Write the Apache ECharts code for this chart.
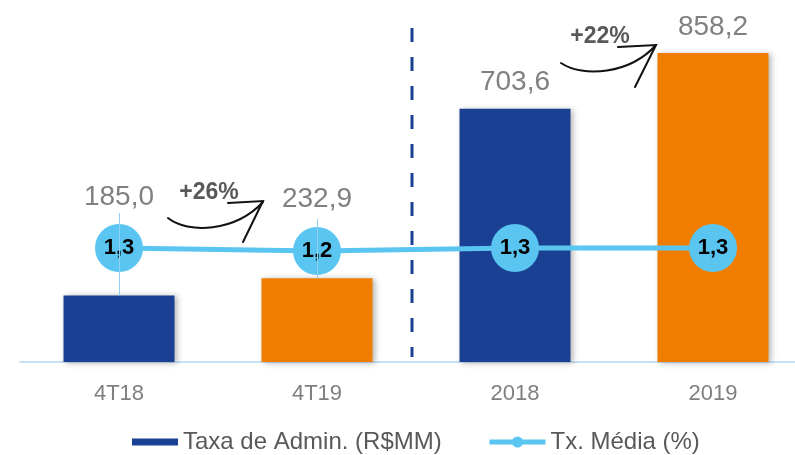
<!DOCTYPE html>
<html><head><meta charset="utf-8">
<script src="https://cdn.jsdelivr.net/npm/echarts@6/dist/echarts.min.js"></script>
<style>html,body{margin:0;padding:0;background:#fff}#c{width:795px;height:455px}</style>
</head><body><div id="c"></div>
<script>
const categories = ['4T18', '4T19', '2018', '2019'];
const taxaAdmin = [185.0, 232.9, 703.6, 858.2];
const txMedia = [1.3, 1.2, 1.3, 1.3];
const growthLabels = ['+26%', '+22%'];
const barColors = ['#1A4093', '#F07D00', '#1A4093', '#F07D00'];
const labelDistances = [84, 65, 12, 12];

const fmt = v => v.toFixed(1).replace('.', ',');
const FONT = 'Liberation Sans, Arial, sans-serif';

const chart = echarts.init(document.getElementById('c'));
const arrowStyle = { stroke: '#111', lineWidth: 2, fill: null, lineCap: 'round' };
chart.setOption({
  animation: false,
  textStyle: { fontFamily: FONT },
  grid: { left: 20, right: -17, top: 38, bottom: 93, outerBoundsMode: 'none', containLabel: false },
  legend: [
    {
      left: 132, top: 430, padding: 0, itemWidth: 46, itemHeight: 7,
      textStyle: { fontSize: 24, color: '#595959', fontFamily: FONT },
      data: [{ name: 'Taxa de Admin. (R$MM)', icon: 'rect' }]
    },
    {
      left: 487, top: 430, padding: 0, itemWidth: 56, itemHeight: 14,
      textStyle: { fontSize: 24, color: '#595959', fontFamily: FONT },
      lineStyle: { width: 5 },
      data: [{ name: 'Tx. Média (%)' }]
    }
  ],
  xAxis: {
    type: 'category', data: categories,
    axisLine: { lineStyle: { color: '#C9E0F5', width: 2 } },
    axisTick: { show: false },
    axisLabel: { fontSize: 22, color: '#7F7F7F', margin: 21, fontFamily: FONT }
  },
  yAxis: [
    { type: 'value', min: 0, max: 900, show: false, splitLine: { show: false } },
    { type: 'value', min: -2.5, max: 8.3, show: false, splitLine: { show: false } }
  ],
  series: [
    {
      name: 'Taxa de Admin. (R$MM)', type: 'bar', barWidth: 111,
      color: '#1A4093',
      data: taxaAdmin.map((v, i) => ({
        value: v,
        itemStyle: { color: barColors[i] },
        label: { distance: labelDistances[i] }
      })),
      itemStyle: { shadowBlur: 6, shadowColor: 'rgba(0,0,0,0.3)', shadowOffsetX: 2, shadowOffsetY: 1 },
      label: {
        show: true, position: 'top', fontSize: 28, color: '#808080', fontFamily: FONT,
        formatter: p => fmt(p.value)
      },
      markLine: {
        silent: true, symbol: 'none', z: 10,
        lineStyle: { color: '#8FD0F5', width: 1, type: 'solid' },
        label: { show: false },
        data: [
          [{ coord: [0, taxaAdmin[0]] }, { coord: [0, 414] }],
          [{ coord: [1, taxaAdmin[1]] }, { coord: [1, 397] }]
        ]
      }
    },
    {
      name: 'Tx. Média (%)', type: 'line', yAxisIndex: 1, data: txMedia,
      color: '#5BC5F2',
      lineStyle: { width: 5, color: '#5BC5F2' },
      symbol: 'circle', symbolSize: 48,
      itemStyle: { color: '#5BC5F2' },
      label: {
        show: true, position: 'inside', fontSize: 22, fontWeight: 'bold', color: '#000',
        fontFamily: FONT, formatter: p => fmt(p.value)
      },
      z: 5
    }
  ],
  graphic: [
    { type: 'line', shape: { x1: 412, y1: 28, x2: 412, y2: 357 },
      style: { stroke: '#1A4093', lineWidth: 3, lineDash: [14, 15] } },
    { type: 'text', x: 209, y: 193, style: { text: growthLabels[0], fontSize: 23, fontWeight: 'bold', fill: '#595959', fontFamily: FONT, align: 'center', verticalAlign: 'middle' } },
    { type: 'text', x: 600, y: 37, style: { text: growthLabels[1], fontSize: 23, fontWeight: 'bold', fill: '#595959', fontFamily: FONT, align: 'center', verticalAlign: 'middle' } },
    { type: 'bezierCurve', shape: { x1: 168, y1: 218, cpx1: 188, cpy1: 234, cpx2: 235, cpy2: 232, x2: 263, y2: 202 }, style: arrowStyle },
    { type: 'polyline', shape: { points: [[228, 203], [263, 201], [243, 242]] }, style: arrowStyle },
    { type: 'bezierCurve', shape: { x1: 561, y1: 63, cpx1: 583, cpy1: 78, cpx2: 630, cpy2: 74, x2: 656, y2: 45 }, style: arrowStyle },
    { type: 'polyline', shape: { points: [[618, 47], [656, 45], [635, 87]] }, style: arrowStyle }
  ]
});
</script></body></html>
